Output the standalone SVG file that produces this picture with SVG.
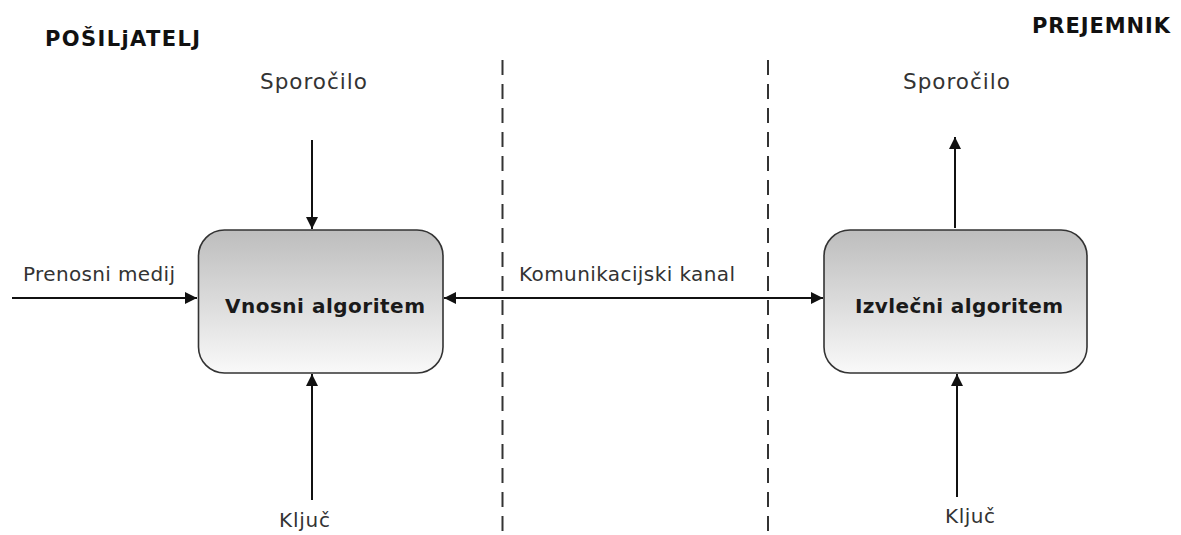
<svg xmlns="http://www.w3.org/2000/svg" width="1181" height="535" viewBox="0 0 1181 535">
<style>
.lbl{font-family:"DejaVu Sans",sans-serif;font-size:20px;fill:#333}
.big{font-size:21.5px}
.ttl{font-family:"DejaVu Sans",sans-serif;font-size:21px;font-weight:bold;fill:#111}
.box{stroke:#333;stroke-width:1.6;fill:url(#g)}
.btxt{font-family:"DejaVu Sans",sans-serif;font-size:20px;font-weight:bold;fill:#1a1a1a}
.arr{stroke:#111;stroke-width:2;fill:none}
.dash{stroke:#333;stroke-width:2;stroke-dasharray:15 9;fill:none}
</style>
<defs>
<linearGradient id="g" x1="0" y1="0" x2="0" y2="1">
<stop offset="0" stop-color="#bdbdbd"/>
<stop offset="1" stop-color="#f9f9f9"/>
</linearGradient>
<marker id="ah" viewBox="0 0 12 12" refX="12" refY="6" markerWidth="12" markerHeight="12" markerUnits="userSpaceOnUse" orient="auto-start-reverse">
<path d="M0,0 L12,6 L0,12 Z" fill="#111"/>
</marker>
</defs>
<rect width="1181" height="535" fill="#fff"/>
<text class="ttl" x="45" y="46" textLength="155" lengthAdjust="spacing">POŠILjATELJ</text>
<text class="ttl" x="1032" y="33" textLength="138" lengthAdjust="spacing">PREJEMNIK</text>
<g id="dividers">
<line class="dash" x1="502.5" y1="60" x2="502.5" y2="535"/>
<line class="dash" x1="768" y1="60" x2="768" y2="535"/>
</g>
<g id="connectors">
<line class="arr" x1="12" y1="298" x2="197" y2="298" marker-end="url(#ah)"/>
<line class="arr" x1="444" y1="298" x2="823" y2="298" marker-start="url(#ah)" marker-end="url(#ah)"/>
<line class="arr" x1="312" y1="140" x2="312" y2="229" marker-end="url(#ah)"/>
<line class="arr" x1="312" y1="500" x2="312" y2="374" marker-end="url(#ah)"/>
<line class="arr" x1="955" y1="228" x2="955" y2="137" marker-end="url(#ah)"/>
<line class="arr" x1="957" y1="497" x2="957" y2="374" marker-end="url(#ah)"/>
</g>
<g id="n-vnosni">
<rect class="box" x="198.5" y="230" width="244.5" height="143" rx="26" ry="26"/>
<text class="btxt" x="225" y="313" textLength="200" lengthAdjust="spacing">Vnosni algoritem</text>
</g>
<g id="n-izvlecni">
<rect class="box" x="824" y="230" width="263" height="143" rx="26" ry="26"/>
<text class="btxt" x="855" y="313" textLength="208" lengthAdjust="spacing">Izvlečni algoritem</text>
</g>
<g id="labels">
<text class="lbl big" x="260" y="89" textLength="107" lengthAdjust="spacing">Sporočilo</text>
<text class="lbl big" x="903" y="89" textLength="107" lengthAdjust="spacing">Sporočilo</text>
<text class="lbl" x="23" y="281" textLength="152" lengthAdjust="spacing">Prenosni medij</text>
<text class="lbl" x="519" y="281" textLength="216" lengthAdjust="spacing">Komunikacijski kanal</text>
<text class="lbl" x="279" y="527" textLength="51" lengthAdjust="spacing">Ključ</text>
<text class="lbl" x="945" y="523" textLength="50" lengthAdjust="spacing">Ključ</text>
</g>
</svg>
